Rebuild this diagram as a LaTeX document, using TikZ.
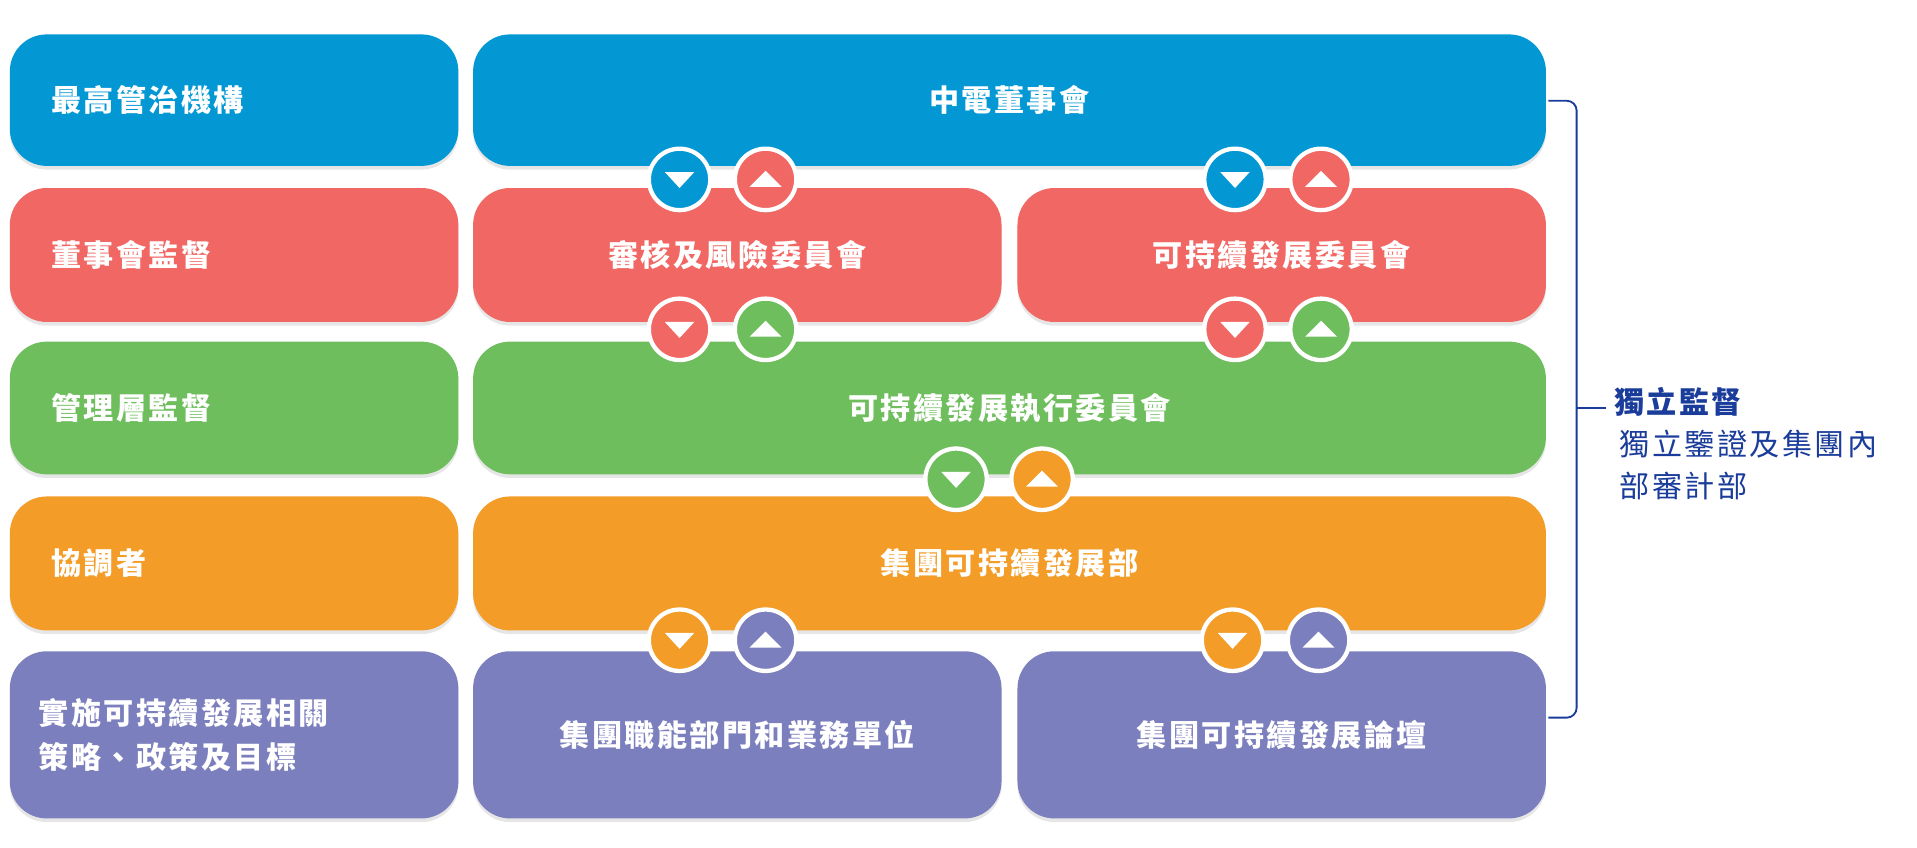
\documentclass[tikz,border=0pt]{standalone}
\usepackage{fontspec}
\setmainfont{Noto Sans CJK TC}[LetterSpace=8]
\usetikzlibrary{shadows}
\definecolor{cb}{HTML}{0398D4}
\definecolor{cr}{HTML}{F06763}
\definecolor{cg}{HTML}{6FBE5E}
\definecolor{co}{HTML}{F39C27}
\definecolor{cp}{HTML}{7C7FBD}
\definecolor{dk}{HTML}{1A3C9A}
\tikzset{
 box/.style={rounded corners=30pt,drop shadow={opacity=0.2,shadow xshift=0pt,shadow yshift=-3pt}},
 circ/.style={circle,draw=white,line width=3.5pt,minimum size=50pt,inner sep=0pt,drop shadow={opacity=0.2,shadow xshift=0pt,shadow yshift=-2pt}},
 txt/.style={text=white,font=\fontsize{24.5}{36}\selectfont\bfseries},
}
\newcommand{\bx}[6]{\fill[#1,box] (#2,#3) rectangle (#4,#5); \node[txt] at ({(#2+#4)/2},{(#3+#5)/2}) {#6};}
\newcommand{\lb}[5]{\fill[#1,box] (8,#2) rectangle (373,#3); \node[txt,anchor=west,align=left] at (#4,{(#2+#3)/2}) {#5};}
\newcommand{\dn}[4]{\node[circ,fill=#2] (#1) at (#3,#4) {}; \fill[white] ([xshift=-12pt,yshift=6pt]#1.center) -- ([xshift=12pt,yshift=6pt]#1.center) -- ([yshift=-7pt]#1.center) -- cycle;}
\newcommand{\up}[4]{\node[circ,fill=#2] (#1) at (#3,#4) {}; \fill[white] ([xshift=-13pt,yshift=-6pt]#1.center) -- ([xshift=13pt,yshift=-6pt]#1.center) -- ([yshift=7pt]#1.center) -- cycle;}
\begin{document}
\begin{tikzpicture}[x=1pt,y=-1pt]
\useasboundingbox (0,0) rectangle (1560,690);
\lb{cb}{28}{135}{38}{最高管治機構}
\lb{cr}{153}{262}{38}{董事會監督}
\lb{cg}{278}{386}{38}{管理層監督}
\lb{co}{404}{513}{38}{協調者}
\lb{cp}{530}{666}{28}{實施可持續發展相關\\策略、政策及目標}
\bx{cb}{385}{28}{1258}{135}{中電董事會}
\bx{cr}{385}{153}{815}{262}{審核及風險委員會}
\bx{cr}{828}{153}{1258}{262}{可持續發展委員會}
\bx{cg}{385}{278}{1258}{386}{可持續發展執行委員會}
\bx{co}{385}{404}{1258}{513}{集團可持續發展部}
\bx{cp}{385}{530}{815}{666}{集團職能部門和業務單位}
\bx{cp}{828}{530}{1258}{666}{集團可持續發展論壇}
\dn{a1}{cb}{553}{146}\up{a2}{cr}{623}{146}
\dn{a3}{cb}{1005}{146}\up{a4}{cr}{1075}{146}
\dn{b1}{cr}{553}{268}\up{b2}{cg}{623}{268}
\dn{b3}{cr}{1005}{268}\up{b4}{cg}{1075}{268}
\dn{c1}{cg}{778}{390}\up{c2}{co}{848}{390}
\dn{d1}{co}{553}{521}\up{d2}{cp}{623}{521}
\dn{d3}{co}{1003}{521}\up{d4}{cp}{1073}{521}
\coordinate (t) at (1260,82); \coordinate (b) at (1260,584);
\draw[dk,line width=1.5pt,rounded corners=8pt] (t) -- (1283,82) -- (1283,584) -- (b);
\draw[dk,line width=1.5pt] (1283,332) -- (1307,332);
\node[anchor=west,text=dk,font=\fontsize{24.5}{34}\selectfont\bfseries] (h) at (1310,327) {獨立監督};
\node[anchor=north west,align=left,text=dk,font=\fontsize{24.5}{34}\selectfont,inner sep=0pt] (s) at (1318,350) {獨立鑒證及集團內\\部審計部};
\end{tikzpicture}
\end{document}
